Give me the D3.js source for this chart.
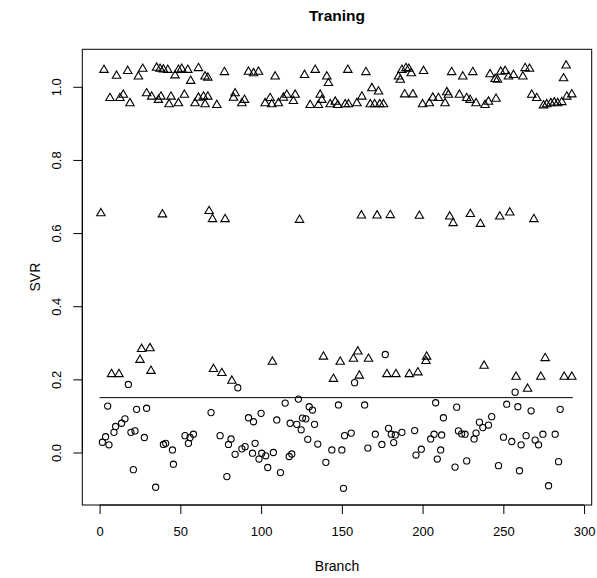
<!DOCTYPE html>
<html>
<head>
<meta charset="utf-8">
<script src="https://cdn.jsdelivr.net/npm/d3@7"></script>
<style>
  body { margin: 0; background: #fff; }
  text { font-family: "Liberation Sans", Arial, sans-serif; fill: #000; }
</style>
</head>
<body>
<svg></svg>
<script>
const width = 597;
const height = 578;

// Triangles (upper class)
const triBranch = [
    2.7, 10.5, 17.4, 24.0, 26.7, 35.3, 37.4, 39.5, 42.2, 46.7, 48.8, 50.8, 54.6, 56.4, 61.2, 65.3, 67.0, 77.3, 92.2, 95.3,
    6.4, 12.6, 14.7, 18.8, 29.1, 32.2, 36.4, 38.0, 43.0, 44.2, 48.8, 52.5, 59.1, 61.2, 64.3, 67.0, 65.3, 72.6, 82.9, 83.9, 89.7, 88.1,
    98.4, 108.7, 126.9, 133.5, 140.7, 141.7, 153.7, 164.9, 185.1, 186.2, 187.2, 189.7, 191.4, 193.0, 200.6,
    102.5, 105.6, 106.6, 110.7, 113.8, 115.9, 120.0, 121.1, 130.4, 135.5, 136.6, 137.6, 142.8, 145.9, 147.5, 152.1, 154.1,
    159.3, 162.4, 167.6, 168.6, 170.3, 172.7, 173.5, 175.8, 188.9, 194.0, 200.0,
    218.0, 224.9, 231.1, 241.8, 244.9, 246.4, 248.4, 251.1, 253.2, 256.3, 262.1, 263.5, 266.2, 287.3, 288.9,
    204.2, 206.3, 209.8, 213.9, 215.0, 216.0, 222.8, 227.3, 229.4, 233.1, 238.7, 240.8, 245.5, 267.6, 270.7, 274.9,
    276.9, 279.4, 281.5, 283.6, 286.2, 289.3, 292.4,
    0.8, 38.9, 67.8, 69.9, 77.7, 123.8, 162.1, 171.8, 180.0, 198.0, 216.8, 218.9, 229.6, 235.8, 247.8, 254.0, 268.9,
    7.4, 12.0, 25.0, 26.0, 31.2, 31.8, 70.5, 75.7, 81.9,
    107.0, 138.6, 144.8, 149.0, 157.2, 159.9, 160.8, 166.5, 177.9, 183.5, 191.8, 197.1,
    202.1, 202.5, 238.1, 257.9, 265.0, 273.2, 275.9, 287.7, 292.4
];
const triSVR = [
    1.046, 1.030, 1.043, 1.028, 1.049, 1.052, 1.049, 1.047, 1.046, 1.031, 1.046, 1.049, 1.046, 1.016, 1.051, 1.028, 1.025, 1.040, 1.041, 1.037,
    0.969, 0.969, 0.978, 0.955, 0.982, 0.973, 0.964, 0.973, 0.952, 0.973, 0.955, 0.978, 0.955, 0.970, 0.973, 0.973, 0.952, 0.950, 0.970, 0.982, 0.964, 0.955,
    1.041, 1.028, 1.032, 1.046, 1.028, 1.010, 1.046, 1.040, 1.028, 1.019, 1.046, 1.051, 1.049, 1.037, 1.043,
    0.955, 0.969, 0.952, 0.955, 0.970, 0.978, 0.961, 0.978, 0.950, 0.950, 0.978, 0.964, 0.952, 0.959, 0.950, 0.952, 0.952,
    0.955, 0.973, 0.952, 0.996, 0.952, 0.987, 0.952, 0.952, 0.979, 0.979, 0.952,
    1.040, 1.028, 1.040, 1.034, 1.021, 1.019, 1.041, 1.043, 1.028, 1.032, 1.028, 1.051, 1.049, 1.023, 1.058,
    0.955, 0.970, 0.969, 0.955, 0.985, 0.978, 0.978, 0.969, 0.964, 0.955, 0.950, 0.959, 0.967, 0.978, 0.969, 0.949,
    0.952, 0.955, 0.957, 0.955, 0.958, 0.973, 0.979,
    0.654, 0.651, 0.660, 0.638, 0.638, 0.636, 0.648, 0.648, 0.649, 0.647, 0.645, 0.627, 0.652, 0.625, 0.645, 0.656, 0.638,
    0.214, 0.214, 0.253, 0.283, 0.285, 0.223, 0.228, 0.217, 0.196,
    0.248, 0.262, 0.201, 0.248, 0.256, 0.276, 0.210, 0.256, 0.214, 0.214, 0.214, 0.219,
    0.250, 0.262, 0.237, 0.207, 0.174, 0.207, 0.258, 0.207, 0.207
];

// Circles (lower class)
const circBranch = [
    1.7, 3.7, 5.0, 5.8, 8.9, 9.9, 13.6, 15.7, 17.8, 19.4, 20.9, 21.9, 22.9, 27.7, 29.1, 34.7, 39.5, 40.9, 45.1, 45.7,
    52.9, 55.0, 56.0, 58.1, 69.0, 74.6, 78.8, 79.8, 81.4, 83.9, 85.6, 88.1, 90.1, 92.2, 94.7, 95.3, 96.3,
    98.7, 100.0, 100.4, 102.9, 104.1, 107.6, 109.7, 112.0, 114.9, 117.4, 118.0, 119.0, 122.1, 123.1, 124.8, 125.6,
    127.7, 128.9, 129.8, 131.8, 133.1, 135.1, 140.1, 143.8, 147.9, 150.0, 151.0, 151.7, 155.8, 157.9, 164.1, 166.1,
    170.7, 174.8, 176.9, 178.9, 180.6, 182.1, 183.1, 187.2, 195.1, 195.9, 199.2,
    205.0, 207.1, 208.1, 209.1, 211.2, 211.8, 212.9, 220.1, 221.1, 222.2, 224.2, 226.3, 227.3, 231.9, 233.1, 235.2,
    237.3, 240.8, 242.8, 247.0, 250.1, 252.1, 255.2, 257.3, 259.0, 260.0, 261.0, 264.1, 267.2, 269.7, 271.8, 274.5,
    278.0, 282.1, 284.2, 285.2
];
const circSVR = [
    0.028, 0.043, 0.127, 0.021, 0.055, 0.071, 0.080, 0.092, 0.186, 0.055, -0.047, 0.059, 0.118, 0.041, 0.121, -0.095, 0.022, 0.025, 0.007, -0.032,
    0.046, 0.025, 0.041, 0.050, 0.109, 0.046, -0.066, 0.022, 0.037, -0.005, 0.177, 0.010, 0.016, 0.095, -0.002, 0.084, 0.025,
    -0.018, 0.107, -0.002, -0.009, -0.041, 0.000, 0.089, -0.055, 0.135, -0.011, 0.080, -0.004, 0.077, 0.146, 0.062, 0.094,
    0.092, 0.036, 0.125, 0.116, 0.077, 0.023, -0.027, 0.007, 0.130, 0.007, -0.098, 0.046, 0.053, 0.191, 0.130, 0.012,
    0.050, 0.022, 0.268, 0.066, 0.050, 0.027, 0.048, 0.055, 0.060, -0.007, 0.009,
    0.037, 0.050, 0.136, -0.018, 0.007, 0.048, 0.095, -0.040, 0.124, 0.059, 0.051, 0.050, -0.023, 0.037, 0.053, 0.083,
    0.068, 0.075, 0.098, -0.036, 0.042, 0.132, 0.030, 0.165, 0.125, -0.050, 0.021, 0.046, 0.114, 0.034, 0.021, 0.050,
    -0.091, 0.050, -0.025, 0.118
];

const xTicks = [0, 50, 100, 150, 200, 250, 300];
const yTicks = [0, 0.2, 0.4, 0.6, 0.8, 1.0];
const cutoff = 0.15;
const cutoffRange = [0, 293];

const svg = d3.select("svg")
    .attr("width", width)
    .attr("height", height);

// R-style limits (data range padded by 4%)
const x = d3.scaleLinear().domain([-10.72, 304.72]).range([82.3, 591.7]);
const y = d3.scaleLinear().domain([-0.1436, 1.1025]).range([505, 49.3]);

svg.append("rect")
    .attr("x", x.range()[0])
    .attr("y", y.range()[1])
    .attr("width", x.range()[1] - x.range()[0])
    .attr("height", y.range()[0] - y.range()[1])
    .attr("fill", "none")
    .attr("stroke", "#000")
    .attr("stroke-width", 1);

// x axis
const xAxis = svg.append("g")
    .attr("transform", `translate(0,${y.range()[0]})`)
    .call(d3.axisBottom(x).tickValues(xTicks).tickSize(9).tickPadding(13).tickSizeOuter(0).tickFormat(d3.format("d")));
xAxis.select(".domain").attr("d", `M${x(0)},0H${x(300)}`);
xAxis.selectAll("text").attr("font-size", 13).style("font-family", "'Liberation Sans', Arial, sans-serif");

// y axis, labels rotated like R's las = 0
const yAxis = svg.append("g")
    .attr("transform", `translate(${x.range()[0]},0)`)
    .call(d3.axisLeft(y).tickValues(yTicks).tickSize(9).tickSizeOuter(0).tickFormat(d3.format(".1f")));
yAxis.select(".domain").attr("d", `M0,${y(0)}V${y(1)}`);
yAxis.selectAll("text")
    .attr("transform", "rotate(-90)")
    .attr("x", 0)
    .attr("y", -25.6)
    .attr("dy", "0.35em")
    .attr("text-anchor", "middle")
    .attr("font-size", 13)
    .style("font-family", "'Liberation Sans', Arial, sans-serif");

svg.selectAll(".domain, .tick line").attr("stroke", "#000");

// cutoff line
svg.append("line")
    .attr("x1", x(cutoffRange[0]))
    .attr("x2", x(cutoffRange[1]))
    .attr("y1", y(cutoff))
    .attr("y2", y(cutoff))
    .attr("stroke", "#000")
    .attr("stroke-width", 1);

const tri = d3.symbol().type(d3.symbolTriangle).size(31);

svg.append("g")
    .selectAll("path")
    .data(d3.range(triBranch.length))
    .join("path")
    .attr("d", tri)
    .attr("transform", i => `translate(${x(triBranch[i])},${y(triSVR[i])})`)
    .attr("fill", "none")
    .attr("stroke", "#000")
    .attr("stroke-width", 1.1);

svg.append("g")
    .selectAll("circle")
    .data(d3.range(circBranch.length))
    .join("circle")
    .attr("cx", i => x(circBranch[i]))
    .attr("cy", i => y(circSVR[i]))
    .attr("r", 3.1)
    .attr("fill", "none")
    .attr("stroke", "#000")
    .attr("stroke-width", 1.1);

// titles
svg.append("text")
    .attr("x", (x.range()[0] + x.range()[1]) / 2)
    .attr("y", 21)
    .attr("text-anchor", "middle")
    .attr("font-size", 15.5)
    .attr("font-weight", "bold")
    .text("Traning");

svg.append("text")
    .attr("x", (x.range()[0] + x.range()[1]) / 2)
    .attr("y", 571)
    .attr("text-anchor", "middle")
    .attr("font-size", 14)
    .text("Branch");

svg.append("text")
    .attr("transform", `translate(35,${(y.range()[0] + y.range()[1]) / 2}) rotate(-90)`)
    .attr("dy", "0.35em")
    .attr("text-anchor", "middle")
    .attr("font-size", 14)
    .text("SVR");
</script>
</body>
</html>
